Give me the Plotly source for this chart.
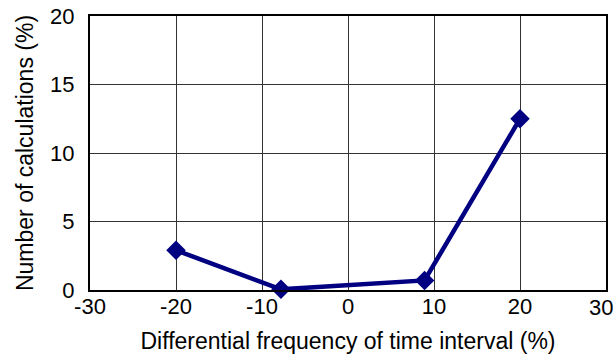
import plotly.graph_objects as go

x_vals = [-20, -7.8, 8.9, 20]
y_vals = [2.9, 0.05, 0.7, 12.5]
x_ticks = [-30, -20, -10, 0, 10, 20, 30]
x_tick_labels = ["-30", "-20", "-10", "0", "10", "20", "30"]
y_ticks = [0, 5, 10, 15, 20]

fig = go.Figure()
fig.add_trace(go.Scatter(
    x=x_vals, y=y_vals, mode="lines+markers",
    line=dict(color="#000080", width=4.5),
    marker=dict(symbol="diamond", size=15, color="#000080"),
    cliponaxis=False,
))

fam = "Liberation Sans, Arial, sans-serif"
tick_font = dict(family=fam, size=22, color="black")
title_font = dict(family=fam, size=23, color="black")
fig.update_layout(
    width=614, height=358,
    margin=dict(l=90, r=8, t=16, b=68, autoexpand=False),
    plot_bgcolor="white", paper_bgcolor="white",
    showlegend=False,
    font=tick_font,
)
# last x tick label is drawn as an annotation nudged inward so it stays inside the page
fig.update_xaxes(
    range=[-30, 30], tickvals=x_ticks, ticktext=x_tick_labels[:-1] + [""],
    tickfont=tick_font,
    showgrid=True, gridcolor="#333333", gridwidth=1,
    showline=True, linecolor="black", linewidth=2, mirror=True,
    zeroline=False, ticks="", ticklen=0, ticklabelstandoff=-4,
    automargin=False,
    title=dict(text="Differential frequency of time interval (%)", font=title_font, standoff=14),
)
fig.add_annotation(
    x=x_ticks[-1], y=0, xref="x", yref="y", text=x_tick_labels[-1],
    showarrow=False, xanchor="right", yanchor="top", xshift=8, yshift=-4,
    font=tick_font, borderpad=0,
)
fig.update_yaxes(
    range=[0, 20], tickvals=y_ticks, ticktext=[str(v) for v in y_ticks],
    tickfont=tick_font,
    showgrid=True, gridcolor="#333333", gridwidth=1,
    showline=True, linecolor="black", linewidth=2, mirror=True,
    zeroline=False, ticks="", ticklen=0, ticklabelstandoff=9,
    automargin=False,
    title=dict(text="Number of calculations (%)", font=title_font, standoff=10),
)
fig.write_html(
    "out.html",
    config={"displayModeBar": False},
    post_script="document.body.style.margin='0';document.body.style.overflow='hidden';",
)
